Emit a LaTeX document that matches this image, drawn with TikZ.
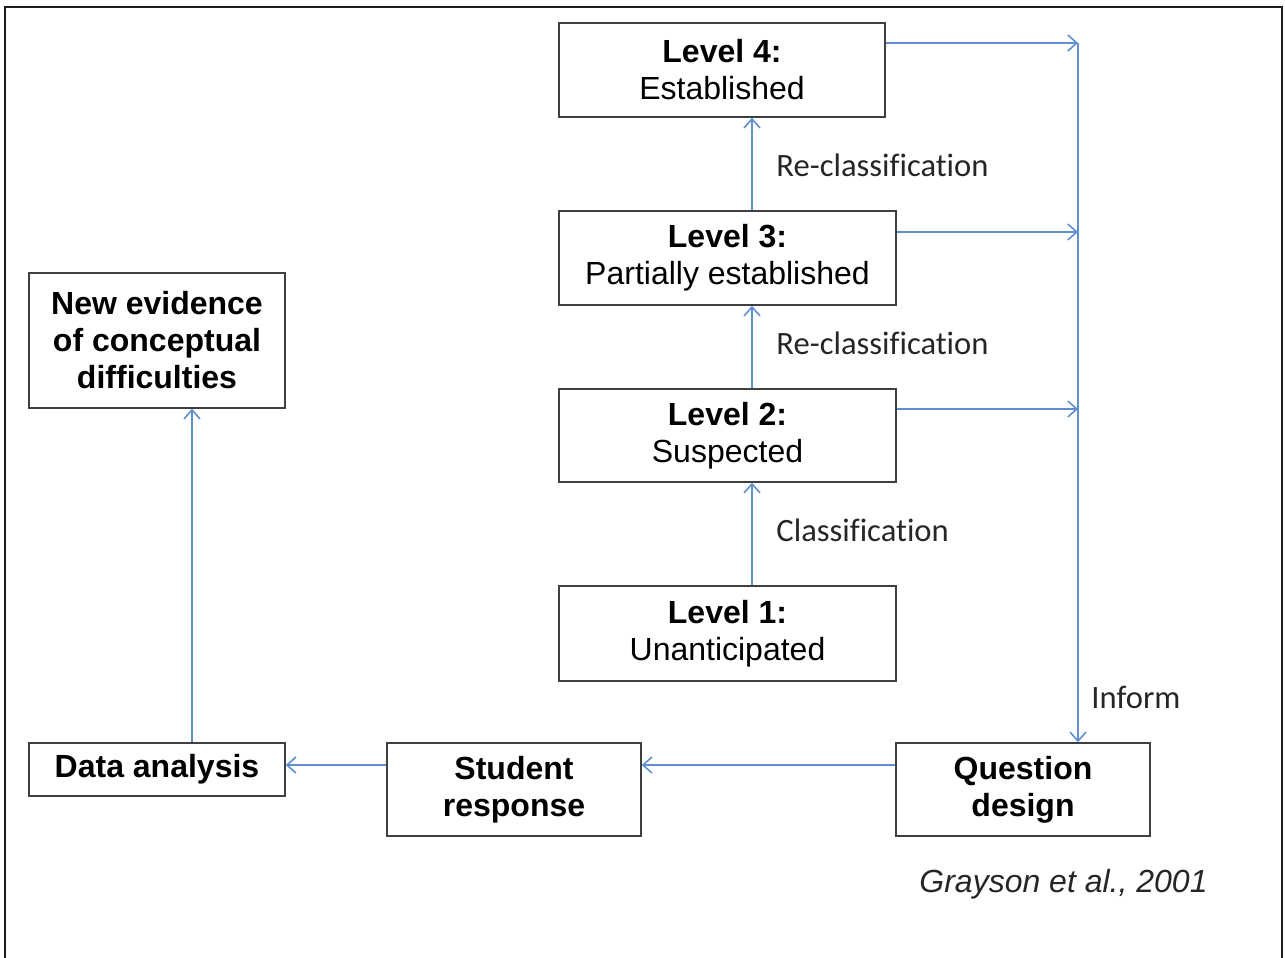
\documentclass[tikz,border=0pt]{standalone}
\usepackage{fontspec}
\setmainfont{Liberation Sans}
\newfontfamily\labelfont[Ligatures=NoCommon]{Carlito}
\usetikzlibrary{arrows.meta}
\definecolor{boxline}{HTML}{3F3F3F}
\definecolor{flow}{HTML}{5F8FD0}
\definecolor{frameline}{HTML}{1E1E1E}
\tikzset{
  box/.style={draw=boxline, line width=0.75pt, fill=white, inner sep=0pt,
    align=center, font=\fontsize{16}{18.5}\selectfont},
  flowarrow/.style={draw=flow, line width=0.8pt,
    -{Straight Barb[length=4.5pt, width=8pt, line width=0.8pt]}},
  flowline/.style={draw=flow, line width=0.8pt},
  steplabel/.style={anchor=west, inner sep=0pt,
    font=\labelfont\fontsize{16.3}{19}\selectfont, text=black!85}
}
\begin{document}
\begin{tikzpicture}[x=0.5pt, y=-0.5pt]
  \useasboundingbox (0,0) rectangle (1285,958);
  % open frame: top, left and right sides only
  \draw[frameline, line width=1pt] (5,958) -- (5,7) -- (1282,7) -- (1282,958);

  % classification levels
  \node[box, minimum width=163pt, minimum height=47pt] (L4) at (722,70)
    {\textbf{Level 4:}\\Established};
  \node[box, minimum width=168.5pt, minimum height=47pt] (L3) at (727.5,258)
    {\textbf{Level 3:}\\Partially established};
  \node[box, minimum width=168.5pt, minimum height=46.5pt] (L2) at (727.5,435.5)
    {\textbf{Level 2:}\\Suspected};
  \node[box, minimum width=168.5pt, minimum height=47.5pt] (L1) at (727.5,633.5)
    {\textbf{Level 1:}\\Unanticipated};

  % research cycle
  \node[box, minimum width=128pt, minimum height=67.5pt] (NE) at (157,340.5)
    {\textbf{New evidence}\\\textbf{of conceptual}\\\textbf{difficulties}};
  \node[box, minimum width=128pt, minimum height=26.5pt] (DA) at (157,769.5)
    {\textbf{Data analysis}};
  \node[box, minimum width=127pt, minimum height=46.5pt] (SR) at (514,789.5)
    {\textbf{Student}\\\textbf{response}};
  \node[box, minimum width=127pt, minimum height=46.5pt] (QD) at (1023,789.5)
    {\textbf{Question}\\\textbf{design}};

  % reference points for connector lanes
  \coordinate (up) at (752,0);
  \coordinate (left) at (192,0);
  \coordinate (r4) at (1078,43);
  \coordinate (r3) at (1078,232);
  \coordinate (r2) at (1078,409);
  \coordinate (low) at (0,765);

  % upward classification arrows
  \draw[flowarrow] (L1.north -| up) -- (L2.south -| up);
  \draw[flowarrow] (L2.north -| up) -- (L3.south -| up);
  \draw[flowarrow] (L3.north -| up) -- (L4.south -| up);

  % levels inform question design
  \draw[flowarrow] (L4.east |- r4) -- (r4);
  \draw[flowarrow] (L3.east |- r3) -- (r3);
  \draw[flowarrow] (L2.east |- r2) -- (r2);
  \draw[flowarrow] (r4) -- (QD.north -| r4);

  % cycle back to the left
  \draw[flowarrow] (QD.west |- low) -- (SR.east |- low);
  \draw[flowarrow] (SR.west |- low) -- (DA.east |- low);
  \draw[flowarrow] (DA.north -| left) -- (NE.south -| left);

  % arrow labels
  \node[steplabel] (lc) at (776,530) {Classification};
  \node[steplabel] (lr2) at (776,343) {Re-classification};
  \node[steplabel] (lr3) at (776,165) {Re-classification};
  \node[steplabel] (li) at (1091,697) {Inform};

  % citation
  \node[anchor=east, inner sep=0pt, text=black!85,
    font=\itshape\fontsize{16}{19}\selectfont] (cite) at (1208,884)
    {Grayson et al., 2001};
\end{tikzpicture}
\end{document}
